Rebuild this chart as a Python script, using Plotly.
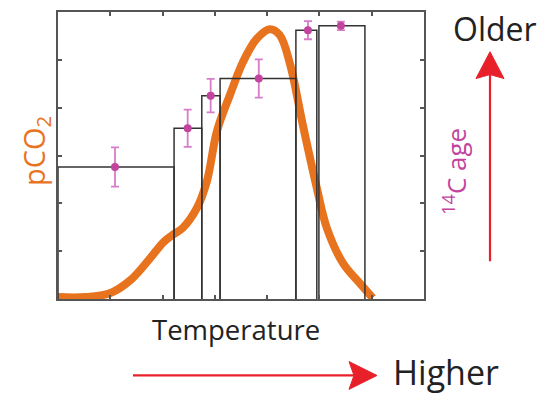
import plotly.graph_objects as go

# ---- data ----
curve_x = [0.0, 0.52, 0.99, 1.38, 1.76, 2.01, 2.18, 2.39, 2.66, 2.85, 3.04, 3.29, 3.54, 3.80, 4.05, 4.24, 4.44, 4.68, 4.95, 5.14, 5.45, 5.77, 6.02]
curve_y = [0.04, 0.04, 0.12, 0.39, 0.85, 1.18, 1.33, 1.49, 1.91, 2.47, 3.51, 4.27, 4.96, 5.44, 5.64, 5.52, 4.90, 3.65, 2.32, 1.49, 0.75, 0.33, 0.02]

box_left = [0.0, 2.22, 2.75, 3.10, 4.55, 4.99]
box_right = [2.22, 2.75, 3.10, 4.55, 4.95, 5.87]
box_height = [2.76, 3.57, 4.25, 4.61, 5.62, 5.71]

pt_x = [1.09, 2.48, 2.92, 3.84, 4.78, 5.41]
pt_y = [2.76, 3.57, 4.25, 4.61, 5.62, 5.71]
pt_err = [0.41, 0.39, 0.35, 0.40, 0.19, 0.09]

# page has an 8px body margin; figure is shrunk so the plot lands in place
OFF = 8
W, H = 556 - OFF, 394 - OFF
L, R, T, B = 58, 424, 10, 299   # plot-area edges in reference pixels
FONT = "Open Sans"

def px(x):
    return (x - L) / (R - L)

def py(y):
    return (B - y) / (B - T)

fig = go.Figure()

fig.add_trace(go.Scatter(
    x=curve_x, y=curve_y, mode="lines",
    line=dict(color="#E8731F", width=8, shape="spline", smoothing=1.0),
    hoverinfo="skip", showlegend=False,
))

for x0, x1, h in zip(box_left, box_right, box_height):
    fig.add_trace(go.Scatter(
        x=[x0, x0, x1, x1], y=[0, h, h, 0], mode="lines",
        line=dict(color="#333333", width=1.5),
        hoverinfo="skip", showlegend=False,
    ))

fig.add_trace(go.Scatter(
    x=pt_x, y=pt_y, mode="markers",
    marker=dict(color="#C2449E", size=8),
    error_y=dict(type="data", array=pt_err, visible=True,
                 color="#D77CC8", thickness=1.8, width=4),
    showlegend=False,
))

axis_common = dict(showline=True, linecolor="#555555", linewidth=2, mirror="ticks",
                   ticks="inside", ticklen=4, tickwidth=1.5, tickcolor="#555555",
                   showticklabels=False, showgrid=False, zeroline=False)
fig.update_xaxes(range=[0, 7], tickvals=[1, 2, 3, 4, 5, 6], **axis_common)
fig.update_yaxes(range=[0, 6], tickvals=[1, 2, 3, 4, 5], **axis_common)

red = "#E8202A"
shapes = []
# horizontal arrow
shapes.append(dict(type="line", xref="paper", yref="paper",
                   x0=px(133), x1=px(355), y0=py(376), y1=py(376),
                   line=dict(color=red, width=2.2)))
shapes.append(dict(type="path", xref="paper", yref="paper",
                   path=f"M {px(377)} {py(376)} L {px(349)} {py(362)} L {px(354)} {py(376)} L {px(349)} {py(390)} Z",
                   fillcolor=red, line=dict(color=red, width=1)))
# vertical arrow
shapes.append(dict(type="line", xref="paper", yref="paper",
                   x0=px(490), x1=px(490), y0=py(261), y1=py(72),
                   line=dict(color=red, width=2.2)))
shapes.append(dict(type="path", xref="paper", yref="paper",
                   path=f"M {px(490)} {py(50)} L {px(476)} {py(77)} L {px(490)} {py(73)} L {px(504)} {py(77)} Z",
                   fillcolor=red, line=dict(color=red, width=1)))

def label(text, x, y, size, color, angle=0):
    return dict(text=text, x=px(x), y=py(y), xref="paper", yref="paper",
                xanchor="center", yanchor="middle", showarrow=False,
                borderpad=0, textangle=angle,
                font=dict(family=FONT, size=size, color=color))

annotations = [
    label("Temperature", 236, 330, 27.5, "#222222"),
    label("Higher", 446, 373, 34, "#222222"),
    label("Older", 495, 27, 32, "#222222"),
    label("pCO<sub>2</sub>", 35, 150, 29, "#E8731F", -90),
    label("<sup>14</sup>C age", 455, 171, 26, "#C2449E", -90),
]

fig.update_layout(
    width=W, height=H,
    margin=dict(l=L - OFF, r=(556 - R), t=T - OFF, b=(394 - B), pad=0),
    paper_bgcolor="white", plot_bgcolor="white",
    shapes=shapes, annotations=annotations,
    showlegend=False,
)

fig.write_html("out.html")
